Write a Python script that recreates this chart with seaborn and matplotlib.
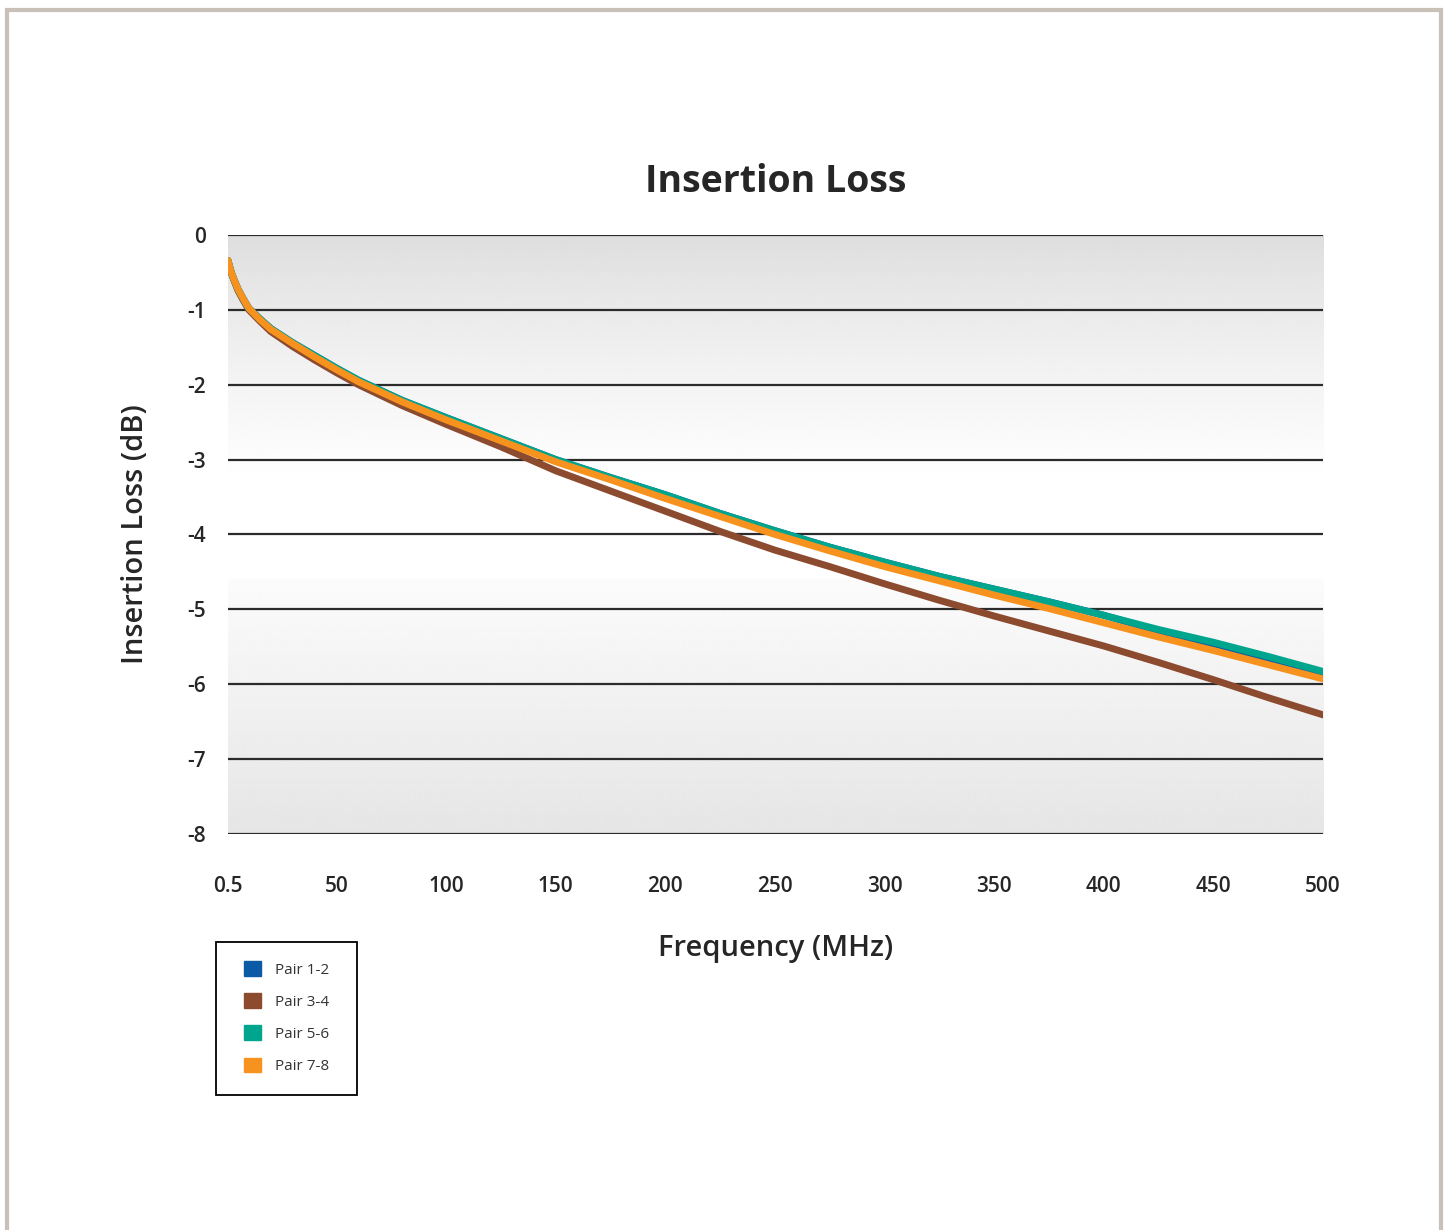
import numpy as np
import pandas as pd
import matplotlib.pyplot as plt
import matplotlib.patches as mpatches
import seaborn as sns

# datos
freq = [0.5, 1, 2, 3, 5, 7, 10, 15, 20, 30, 40, 50, 60, 80, 100, 125, 150, 175, 200,
        225, 250, 275, 300, 325, 350, 375, 400, 425, 450, 475, 500]
pair_12 = [-0.34, -0.40, -0.50, -0.58, -0.72, -0.83, -0.98, -1.12, -1.25, -1.44, -1.61,
           -1.78, -1.94, -2.21, -2.44, -2.72, -3.00, -3.24, -3.47, -3.72, -3.95, -4.17,
           -4.37, -4.56, -4.73, -4.90, -5.08, -5.29, -5.48, -5.66, -5.87]
pair_34 = [-0.35, -0.41, -0.51, -0.59, -0.74, -0.85, -1.00, -1.15, -1.29, -1.49, -1.67,
           -1.84, -2.00, -2.28, -2.53, -2.83, -3.15, -3.42, -3.69, -3.96, -4.21, -4.43,
           -4.66, -4.88, -5.09, -5.29, -5.49, -5.71, -5.94, -6.18, -6.41]
pair_56 = [-0.34, -0.40, -0.50, -0.58, -0.72, -0.83, -0.98, -1.12, -1.25, -1.44, -1.61,
           -1.78, -1.94, -2.21, -2.44, -2.72, -3.00, -3.24, -3.47, -3.72, -3.95, -4.17,
           -4.37, -4.56, -4.73, -4.90, -5.08, -5.27, -5.44, -5.63, -5.83]
pair_78 = [-0.34, -0.40, -0.50, -0.58, -0.72, -0.83, -0.98, -1.13, -1.26, -1.45, -1.63,
           -1.80, -1.96, -2.23, -2.47, -2.75, -3.03, -3.27, -3.52, -3.76, -4.00, -4.22,
           -4.43, -4.62, -4.81, -4.99, -5.18, -5.37, -5.55, -5.74, -5.93]

pairs = ["Pair 1-2", "Pair 3-4", "Pair 5-6", "Pair 7-8"]
colores = ["#0b5aa6", "#8c4a2e", "#00a58d", "#f7921e"]
xticks = [0.5, 50, 100, 150, 200, 250, 300, 350, 400, 450, 500]
xticklabels = ["0.5", "50", "100", "150", "200", "250", "300", "350", "400", "450", "500"]
yticks = [0, -1, -2, -3, -4, -5, -6, -7, -8]

df = pd.concat([
    pd.DataFrame({"freq": freq, "loss": vals, "pair": name})
    for name, vals in zip(pairs, [pair_12, pair_34, pair_56, pair_78])
])

sns.set_style("white")
plt.rcParams['font.family'] = ['Open Sans', 'DejaVu Sans']

fig = plt.figure(figsize=(14.45, 12.3), dpi=100)
ax = fig.add_axes([0.1578, 0.322, 0.7578, 0.487])

# fondo con degradado
n = 400
yy = np.linspace(0, -8, n)
grad = np.ones(n)
top = yy > -3.3
grad[top] = 0.865 + (1 - 0.865) * (-yy[top] / 3.3) ** 0.8
bot = yy < -4.6
grad[bot] = 0.985 - (0.985 - 0.9) * ((-yy[bot] - 4.6) / 3.4)
img = np.repeat(grad[:, None], 2, axis=1)
ax.imshow(img, cmap="gray", vmin=0, vmax=1, extent=[0.5, 500, -8, 0],
          aspect="auto", zorder=0, interpolation="bilinear")

for yv in yticks:
    ax.axhline(yv, color="#2b2b2b", lw=1.6, zorder=1)

orden = ["Pair 3-4", "Pair 1-2", "Pair 5-6", "Pair 7-8"]
for name in orden:
    sub = df[df["pair"] == name]
    sns.lineplot(data=sub, x="freq", y="loss", color=colores[pairs.index(name)],
                 lw=5, ax=ax, zorder=3, solid_capstyle="round", solid_joinstyle="round")

ax.set_xlim(0.5, 500)
ax.set_ylim(-8, 0)
ax.set_xticks(xticks)
ax.set_xticklabels(xticklabels, fontsize=15, fontweight="semibold")
ax.set_yticks(yticks)
ax.set_yticklabels([str(v) for v in yticks], fontsize=15, fontweight="semibold")
ax.tick_params(axis="x", length=0, pad=30)
ax.tick_params(axis="y", length=0, pad=16)
for s in ax.spines.values():
    s.set_visible(False)
ax.set_xlabel("Frequency (MHz)", fontsize=21, fontweight="semibold", labelpad=27)
ax.set_ylabel("Insertion Loss (dB)", fontsize=21, fontweight="semibold", labelpad=27)
ax.set_title("Insertion Loss", fontsize=27, fontweight="bold", pad=31)

# leyenda con marco aparte
handles = [mpatches.Patch(color=c, label=p) for p, c in zip(pairs, colores)]
leg = fig.legend(handles=handles, loc="upper left", bbox_to_anchor=(0.1689, 0.2185),
                 fontsize=11, frameon=False, handlelength=1.1, handleheight=1.1,
                 labelspacing=1.02, borderpad=0, handletextpad=0.9, borderaxespad=0)
for t in leg.get_texts():
    t.set_color("#333333")
fig.patches.append(mpatches.Rectangle((0.1495, 0.1098), 0.0976, 0.1244, transform=fig.transFigure,
                                      fill=False, edgecolor="black", lw=1.3))

# marco exterior
fig.patches.append(mpatches.Rectangle((0.0045, -0.01), 0.9925, 1.002, transform=fig.transFigure,
                                      fill=False, edgecolor="#c9c0b7", lw=3))

plt.savefig("out.png", dpi=100)
